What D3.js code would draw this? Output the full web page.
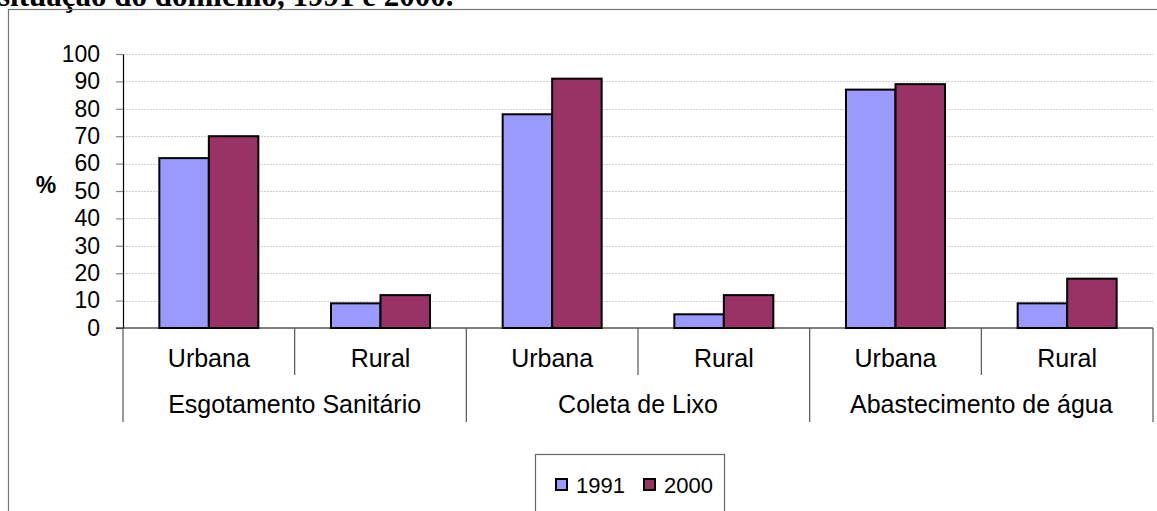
<!DOCTYPE html>
<html>
<head>
<meta charset="utf-8">
<script src="https://cdn.jsdelivr.net/npm/d3@7"></script>
<style>
    body { margin: 0; background: #fff; overflow: hidden; }
    text { font-family: "Liberation Sans", Arial, sans-serif; fill: #000; }
</style>
</head>
<body>
<svg id="chart"></svg>
<script>
const groups = ["Esgotamento Sanitário", "Coleta de Lixo", "Abastecimento de água"]
const areas = ["Urbana", "Rural"]
const series = ["1991", "2000"]
const values1991 = [62, 9, 78, 5, 87, 9]
const values2000 = [70, 12, 91, 12, 89, 18]
const yTicks = [0, 10, 20, 30, 40, 50, 60, 70, 80, 90, 100]
const colors = ["#9999ff", "#993366"]

const
    width = 1157,
    height = 511,
    margin = { top: 54, right: 4, bottom: 183, left: 123 }

// one row per category (group + area)
const cats = []
groups.forEach((g, gi) => areas.forEach((a, ai) => {
    const i = gi * areas.length + ai
    cats.push({ id: i, group: g, area: a, vals: [values1991[i], values2000[i]] })
}))

const svg = d3.select("#chart")
    .attr("width", width)
    .attr("height", height)

// title, cut at the top of the page
svg.append("text")
    .attr("x", -2)
    .attr("y", 6)
    .style("font-family", "'Liberation Serif', 'Times New Roman', serif")
    .style("font-weight", "bold")
    .style("font-size", "31px")
    .text("situação do domicílio, 1991 e 2000.")

// outer frame
svg.append("rect")
    .attr("x", 8.5).attr("y", 9.5)
    .attr("width", 1300).attr("height", 700)
    .attr("fill", "none")
    .attr("stroke", "#777")
    .attr("stroke-width", 1.2)

const x = d3.scaleBand()
    .domain(cats.map(d => d.id))
    .range([margin.left, width - margin.right])
    .padding(0)

const xs = d3.scaleBand()
    .domain(series)
    .range([0, x.bandwidth()])
    .paddingInner(0)
    .paddingOuter(0.734)

const y = d3.scaleLinear()
    .domain([0, 100])
    .range([height - margin.bottom, margin.top])

// gridlines
svg.append("g")
    .selectAll("line")
    .data(yTicks.filter(t => t > 0))
    .join("line")
    .attr("x1", margin.left).attr("x2", width - margin.right)
    .attr("y1", d => Math.round(y(d)) + 0.5).attr("y2", d => Math.round(y(d)) + 0.5)
    .attr("stroke", "#d0d0d0")
    .attr("stroke-dasharray", "2,1")

// y axis
const yAxis = g => g
    .attr("transform", `translate(${margin.left},0)`)
    .call(d3.axisLeft(y).tickValues(yTicks).tickSize(7).tickPadding(16).tickSizeOuter(0))
    .call(g => g.select(".domain").attr("stroke", "#000").attr("stroke-width", 1.2))
    .call(g => g.selectAll(".tick line").attr("stroke", "#888").attr("stroke-width", 1.2))
    .call(g => g.selectAll(".tick text")
        .style("font-family", "'Liberation Sans', Arial, sans-serif")
        .style("font-size", "23px")
        .attr("fill", "#000"))

svg.append("g").call(yAxis)

svg.append("text")
    .attr("x", 46)
    .attr("y", 185)
    .attr("text-anchor", "middle")
    .attr("dominant-baseline", "central")
    .style("font-weight", "bold")
    .style("font-size", "23px")
    .text("%")

// bars
const barGroups = svg.append("g")
    .selectAll("g")
    .data(cats)
    .join("g")
    .attr("transform", d => `translate(${x(d.id)},0)`)

barGroups.selectAll("rect")
    .data(d => d.vals.map((v, i) => ({ key: series[i], value: v, i })))
    .join("rect")
    .attr("x", d => xs(d.key))
    .attr("y", d => y(d.value))
    .attr("width", xs.bandwidth())
    .attr("height", d => y(0) - y(d.value))
    .attr("fill", d => colors[d.i])
    .attr("stroke", "#000")
    .attr("stroke-width", 2)

// x axis line
const y0 = y(0)
svg.append("line")
    .attr("x1", margin.left - 7).attr("x2", width - margin.right)
    .attr("y1", y0).attr("y2", y0)
    .attr("stroke", "#000")
    .attr("stroke-width", 1.2)

// category separators
const bounds = d3.range(cats.length + 1)
svg.append("g")
    .selectAll("line")
    .data(bounds)
    .join("line")
    .attr("x1", i => i < cats.length ? x(i) : x(cats.length - 1) + x.bandwidth())
    .attr("x2", i => i < cats.length ? x(i) : x(cats.length - 1) + x.bandwidth())
    .attr("y1", y0)
    .attr("y2", i => i % areas.length === 0 ? y0 + 94 : y0 + 47)
    .attr("stroke", "#555")
    .attr("stroke-width", 1.2)

// area labels
svg.append("g")
    .selectAll("text")
    .data(cats)
    .join("text")
    .attr("x", d => x(d.id) + x.bandwidth() / 2)
    .attr("y", y0 + 39)
    .attr("text-anchor", "middle")
    .style("font-size", "25px")
    .text(d => d.area)

// group labels
svg.append("g")
    .selectAll("text")
    .data(groups)
    .join("text")
    .attr("x", (d, gi) => x(gi * areas.length) + x.bandwidth() * areas.length / 2)
    .attr("y", y0 + 85)
    .attr("text-anchor", "middle")
    .style("font-size", "25px")
    .text(d => d)

// legend
const legend = svg.append("g")
legend.append("rect")
    .attr("x", 535.5).attr("y", 454.5)
    .attr("width", 189).attr("height", 80)
    .attr("fill", "#fff")
    .attr("stroke", "#666")
    .attr("stroke-width", 1.2)

const legendX = [556, 644]
const items = legend.selectAll("g")
    .data(series)
    .join("g")
    .attr("transform", (d, i) => `translate(${legendX[i]},479)`)

items.append("rect")
    .attr("width", 11).attr("height", 11)
    .attr("fill", (d, i) => colors[i])
    .attr("stroke", "#000")
    .attr("stroke-width", 2)

items.append("text")
    .attr("x", 20)
    .attr("y", 14)
    .style("font-size", "22px")
    .text(d => d)
</script>
</body>
</html>
